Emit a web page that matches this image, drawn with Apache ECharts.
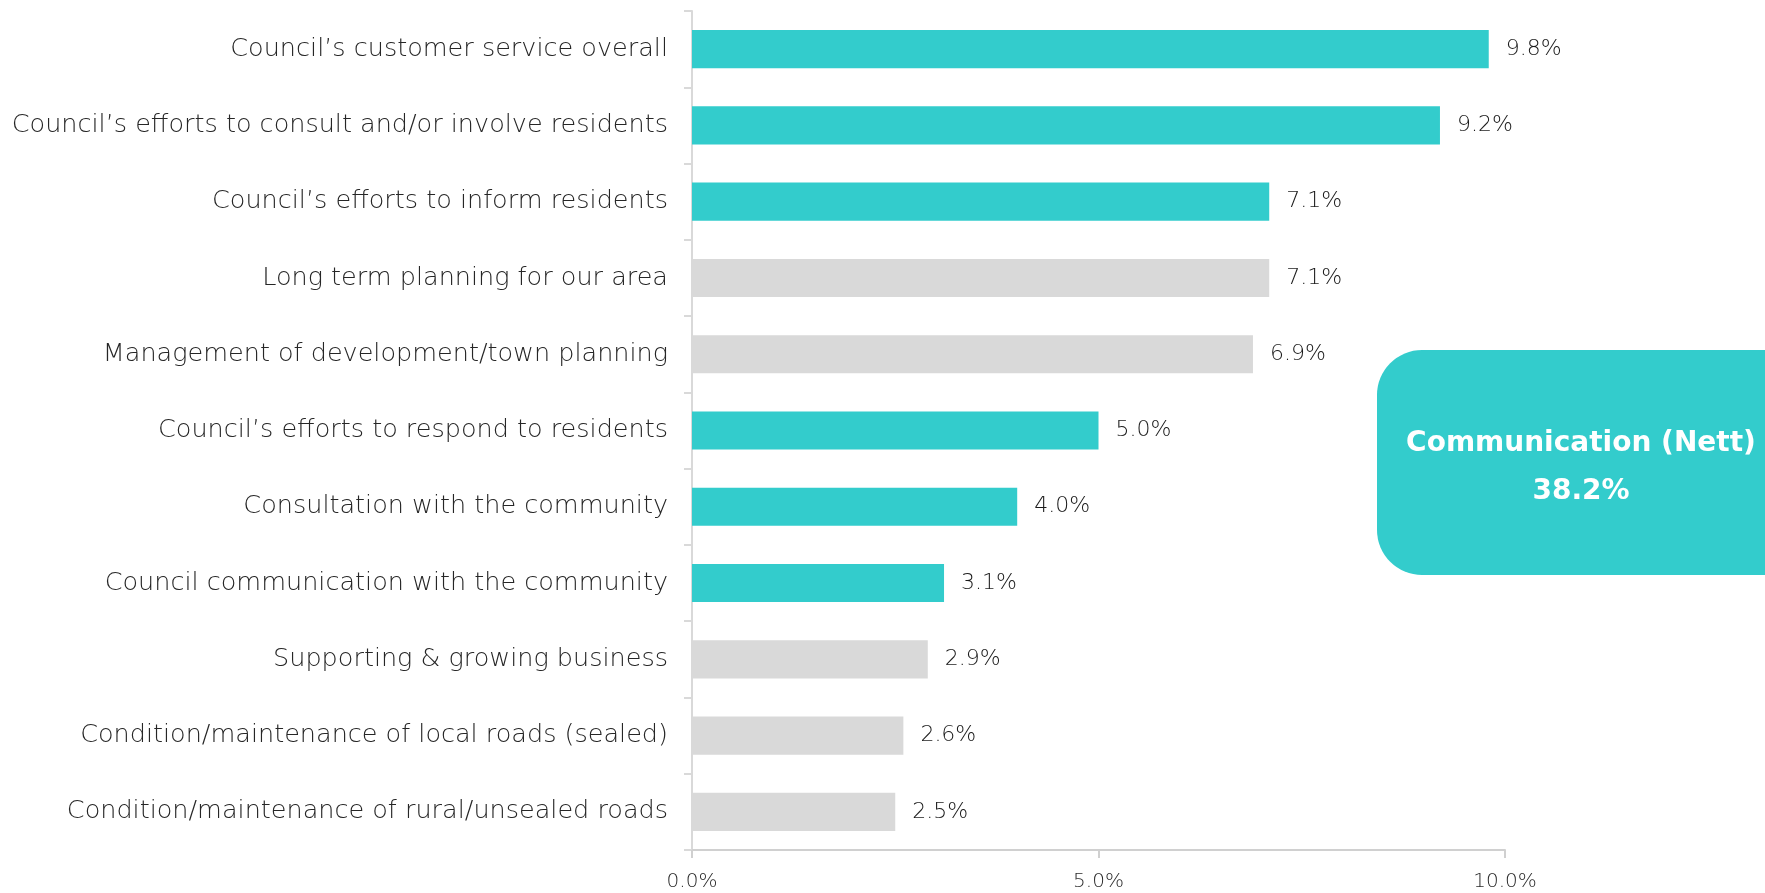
<!DOCTYPE html>
<html>
<head>
<meta charset="utf-8">
<script src="https://cdn.jsdelivr.net/npm/echarts@6/dist/echarts.min.js"></script>
<style>
  html, body { margin: 0; padding: 0; background: #fff; }
  #chart { width: 1765px; height: 893px; }
</style>
</head>
<body>
<div id="chart"></div>
<script>
// categories, top to bottom
const categories = [
  'Council\u2019s customer service overall',
  'Council\u2019s efforts to consult and/or involve residents',
  'Council\u2019s efforts to inform residents',
  'Long term planning for our area',
  'Management of development/town planning',
  'Council\u2019s efforts to respond to residents',
  'Consultation with the community',
  'Council communication with the community',
  'Supporting & growing business',
  'Condition/maintenance of local roads (sealed)',
  'Condition/maintenance of rural/unsealed roads'
]
const values = [9.8, 9.2, 7.1, 7.1, 6.9, 5.0, 4.0, 3.1, 2.9, 2.6, 2.5]
// true = part of the Communication (Nett) group
const isCommunication = [true, true, true, false, false, true, true, true, false, false, false]
const xTicks = [0, 5, 10]
const nettLabel = 'Communication (Nett)'
const nettValue = 38.2

const TEAL = '#33CCCC'
const GREY = '#D9D9D9'
const FONT = "'DejaVu Sans', sans-serif"

let myChart = echarts.init(document.getElementById('chart'))

let option = {
  animation: false,
  grid: { left: 692, right: 260, top: 11, bottom: 43 },
  xAxis: {
    type: 'value',
    min: xTicks[0],
    max: xTicks[xTicks.length - 1],
    interval: xTicks[1] - xTicks[0],
    splitLine: { show: false },
    axisLine: { show: true, lineStyle: { color: '#D0D0D0', width: 2 } },
    axisTick: { show: true, length: 8, lineStyle: { color: '#D0D0D0', width: 2 } },
    axisLabel: {
      color: '#2a2a2a',
      fontSize: 20,
      fontFamily: FONT,
      fontWeight: 'lighter',
      margin: 22,
      formatter: v => v.toFixed(1) + '%'
    }
  },
  yAxis: {
    type: 'category',
    inverse: true,
    data: categories,
    axisLine: { show: true, lineStyle: { color: '#D9D9D9', width: 2 } },
    axisTick: { show: true, length: 8, lineStyle: { color: '#D9D9D9', width: 2 } },
    axisLabel: {
      color: '#262626',
      fontSize: 25.5,
      fontFamily: FONT,
      fontWeight: 'lighter',
      margin: 24
    }
  },
  series: [
    {
      type: 'bar',
      barWidth: '50%',
      data: values.map((v, i) => ({
        value: v,
        itemStyle: { color: isCommunication[i] ? TEAL : GREY }
      })),
      label: {
        show: true,
        position: 'right',
        distance: 17,
        color: '#1a1a1a',
        fontSize: 22,
        fontFamily: FONT,
        fontWeight: 'lighter',
        formatter: p => p.value.toFixed(1) + '%'
      }
    }
  ],
  graphic: [
    {
      type: 'rect',
      left: 1377,
      top: 350,
      shape: { width: 430, height: 225, r: 45 },
      style: { fill: TEAL }
    },
    {
      type: 'text',
      x: 1581,
      y: 468,
      style: {
        text: nettLabel + '\n' + nettValue.toFixed(1) + '%',
        fill: '#fff',
        font: 'bold 28px ' + FONT,
        align: 'center',
        verticalAlign: 'middle',
        lineHeight: 48
      }
    }
  ]
}
myChart.setOption(option)
</script>
</body>
</html>
